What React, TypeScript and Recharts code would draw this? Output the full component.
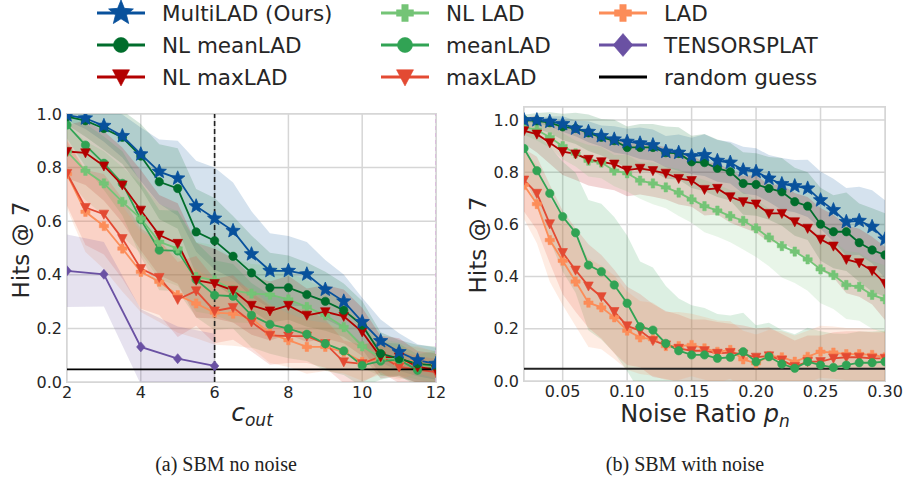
import React from "react";
import {
  ComposedChart,
  Line,
  Area,
  XAxis,
  YAxis,
  CartesianGrid,
  ReferenceLine,
} from "recharts";

// x 軸
const leftX = [2, 2.5, 3, 3.5, 4, 4.5, 5, 5.5, 6, 6.5, 7, 7.5, 8, 8.5, 9, 9.5, 10, 10.5, 11, 11.5, 12];
const rightX = [
  0.02, 0.03, 0.04, 0.05, 0.06, 0.07, 0.08, 0.09, 0.1, 0.11, 0.12, 0.13, 0.14, 0.15, 0.16,
  0.17, 0.18, 0.19, 0.2, 0.21, 0.22, 0.23, 0.24, 0.25, 0.26, 0.27, 0.28, 0.29, 0.3,
];
const leftTicksX = [2, 4, 6, 8, 10, 12];
const rightTicksX = [0.05, 0.1, 0.15, 0.2, 0.25, 0.3];
const yTicks = [0, 0.2, 0.4, 0.6, 0.8, 1.0];
const randomGuess = 0.047;
const cutLine = 6;

// (a) SBM no noise : mean
const multiL = [0.996, 0.984, 0.956, 0.918, 0.85, 0.785, 0.76, 0.656, 0.61, 0.564, 0.477, 0.415, 0.415, 0.402, 0.345, 0.301, 0.224, 0.153, 0.112, 0.081, 0.068];
const nlMeanL = [0.99, 0.975, 0.946, 0.913, 0.843, 0.747, 0.722, 0.56, 0.527, 0.469, 0.407, 0.352, 0.352, 0.326, 0.301, 0.268, 0.212, 0.106, 0.087, 0.068, 0.062];
const nlMaxL = [0.86, 0.855, 0.806, 0.735, 0.641, 0.548, 0.517, 0.38, 0.367, 0.342, 0.286, 0.265, 0.286, 0.249, 0.262, 0.245, 0.187, 0.093, 0.093, 0.056, 0.046];
const nlLadL = [0.86, 0.788, 0.741, 0.672, 0.61, 0.523, 0.498, 0.392, 0.38, 0.342, 0.33, 0.326, 0.308, 0.28, 0.249, 0.205, 0.133, 0.091, 0.087, 0.068, 0.056];
const meanL = [0.959, 0.884, 0.816, 0.741, 0.606, 0.492, 0.489, 0.382, 0.324, 0.32, 0.249, 0.215, 0.199, 0.178, 0.143, 0.116, 0.062, 0.078, 0.083, 0.044, 0.056];
const maxL = [0.778, 0.651, 0.626, 0.535, 0.423, 0.39, 0.308, 0.34, 0.265, 0.278, 0.224, 0.174, 0.171, 0.171, 0.143, 0.075, 0.068, 0.096, 0.056, 0.046, 0.037];
const ladL = [0.776, 0.635, 0.582, 0.498, 0.411, 0.374, 0.324, 0.293, 0.259, 0.255, 0.237, 0.181, 0.156, 0.131, 0.131, 0.112, 0.075, 0.087, 0.068, 0.083, 0.062];
const tensorL = [0.415, null, 0.402, null, 0.131, null, 0.087, null, 0.06, null, null, null, null, null, null, null, null, null, null, null, null];

// (a) std
const multiLStd = [0.02, 0.04, 0.06, 0.08, 0.1, 0.12, 0.14, 0.17, 0.19, 0.18, 0.16, 0.14, 0.13, 0.12, 0.11, 0.1, 0.09, 0.08, 0.07, 0.06, 0.06];
const nlMeanLStd = [0.03, 0.06, 0.08, 0.1, 0.12, 0.14, 0.15, 0.16, 0.16, 0.15, 0.14, 0.13, 0.12, 0.12, 0.11, 0.1, 0.09, 0.08, 0.07, 0.07, 0.07];
const nlMaxLStd = [0.1, 0.12, 0.13, 0.14, 0.15, 0.15, 0.15, 0.14, 0.13, 0.12, 0.11, 0.11, 0.11, 0.1, 0.1, 0.1, 0.09, 0.08, 0.07, 0.06, 0.06];
const nlLadLStd = [0.1, 0.11, 0.12, 0.13, 0.13, 0.14, 0.14, 0.13, 0.13, 0.12, 0.11, 0.11, 0.1, 0.1, 0.1, 0.09, 0.08, 0.07, 0.06, 0.06, 0.06];
const meanLStd = [0.05, 0.08, 0.1, 0.12, 0.14, 0.15, 0.15, 0.14, 0.13, 0.12, 0.12, 0.11, 0.11, 0.1, 0.1, 0.09, 0.08, 0.07, 0.06, 0.06, 0.06];
const maxLStd = [0.12, 0.14, 0.15, 0.15, 0.15, 0.14, 0.14, 0.13, 0.12, 0.12, 0.11, 0.11, 0.1, 0.1, 0.09, 0.08, 0.07, 0.06, 0.06, 0.05, 0.05];
const ladLStd = [0.13, 0.15, 0.16, 0.16, 0.15, 0.15, 0.14, 0.13, 0.12, 0.12, 0.11, 0.11, 0.1, 0.1, 0.09, 0.08, 0.07, 0.06, 0.06, 0.05, 0.05];
const tensorLStd = [0.135, null, 0.12, null, 0.14, null, 0.12, null, 0.12, null, null, null, null, null, null, null, null, null, null, null, null];

// (b) SBM with noise : mean
const multiR = [1.0, 1.0, 0.994, 0.985, 0.968, 0.955, 0.939, 0.926, 0.917, 0.911, 0.904, 0.879, 0.875, 0.862, 0.866, 0.844, 0.837, 0.808, 0.802, 0.776, 0.755, 0.747, 0.738, 0.693, 0.655, 0.61, 0.614, 0.591, 0.543];
const nlMeanR = [1.0, 0.997, 0.99, 0.974, 0.968, 0.951, 0.934, 0.921, 0.895, 0.895, 0.895, 0.875, 0.872, 0.84, 0.837, 0.815, 0.802, 0.757, 0.753, 0.738, 0.725, 0.687, 0.67, 0.601, 0.572, 0.572, 0.53, 0.502, 0.483];
const nlMaxR = [0.959, 0.946, 0.913, 0.879, 0.87, 0.849, 0.84, 0.831, 0.808, 0.815, 0.806, 0.796, 0.776, 0.768, 0.734, 0.738, 0.706, 0.687, 0.678, 0.642, 0.642, 0.61, 0.585, 0.543, 0.517, 0.466, 0.453, 0.423, 0.374];
const nlLadR = [0.974, 0.962, 0.934, 0.9, 0.872, 0.844, 0.837, 0.806, 0.796, 0.768, 0.757, 0.742, 0.722, 0.696, 0.67, 0.653, 0.632, 0.614, 0.585, 0.55, 0.517, 0.496, 0.466, 0.428, 0.406, 0.368, 0.361, 0.33, 0.313];
const meanR = [0.891, 0.806, 0.719, 0.63, 0.568, 0.444, 0.419, 0.368, 0.298, 0.208, 0.195, 0.144, 0.116, 0.1, 0.1, 0.087, 0.091, 0.112, 0.074, 0.093, 0.065, 0.049, 0.074, 0.061, 0.052, 0.061, 0.07, 0.07, 0.074];
const maxR = [0.77, 0.719, 0.602, 0.492, 0.425, 0.364, 0.323, 0.266, 0.211, 0.193, 0.155, 0.138, 0.125, 0.116, 0.116, 0.106, 0.109, 0.103, 0.091, 0.096, 0.08, 0.055, 0.074, 0.074, 0.087, 0.091, 0.091, 0.087, 0.087];
const ladR = [0.751, 0.678, 0.54, 0.461, 0.381, 0.3, 0.282, 0.244, 0.193, 0.167, 0.16, 0.134, 0.134, 0.138, 0.125, 0.112, 0.119, 0.083, 0.068, 0.096, 0.091, 0.074, 0.093, 0.112, 0.109, 0.103, 0.103, 0.1, 0.091];

// (b) std
const multiRStd = [0.01, 0.01, 0.02, 0.03, 0.03, 0.04, 0.04, 0.05, 0.05, 0.06, 0.06, 0.06, 0.07, 0.07, 0.08, 0.08, 0.08, 0.09, 0.09, 0.09, 0.1, 0.1, 0.11, 0.11, 0.12, 0.13, 0.13, 0.14, 0.15];
const nlMeanRStd = [0.02, 0.03, 0.04, 0.05, 0.06, 0.07, 0.07, 0.08, 0.08, 0.09, 0.09, 0.1, 0.1, 0.1, 0.11, 0.11, 0.11, 0.12, 0.12, 0.12, 0.13, 0.13, 0.13, 0.14, 0.14, 0.15, 0.15, 0.16, 0.16];
const nlMaxRStd = [0.05, 0.07, 0.08, 0.09, 0.1, 0.1, 0.1, 0.1, 0.1, 0.1, 0.1, 0.1, 0.1, 0.1, 0.1, 0.1, 0.1, 0.1, 0.11, 0.11, 0.11, 0.11, 0.12, 0.12, 0.12, 0.13, 0.13, 0.13, 0.14];
const nlLadRStd = [0.03, 0.04, 0.04, 0.05, 0.05, 0.06, 0.06, 0.06, 0.07, 0.07, 0.08, 0.08, 0.09, 0.09, 0.1, 0.1, 0.1, 0.11, 0.11, 0.11, 0.12, 0.12, 0.12, 0.13, 0.13, 0.13, 0.13, 0.13, 0.13];
const meanRStd = [0.1, 0.14, 0.18, 0.21, 0.23, 0.25, 0.26, 0.26, 0.26, 0.25, 0.24, 0.22, 0.2, 0.19, 0.18, 0.17, 0.16, 0.15, 0.14, 0.13, 0.13, 0.13, 0.13, 0.13, 0.13, 0.12, 0.12, 0.12, 0.12];
const maxRStd = [0.12, 0.14, 0.15, 0.16, 0.16, 0.16, 0.16, 0.16, 0.15, 0.14, 0.14, 0.13, 0.13, 0.12, 0.12, 0.12, 0.11, 0.11, 0.11, 0.11, 0.1, 0.1, 0.1, 0.1, 0.1, 0.1, 0.1, 0.1, 0.1];
const ladRStd = [0.13, 0.15, 0.16, 0.17, 0.17, 0.17, 0.16, 0.16, 0.15, 0.14, 0.14, 0.13, 0.13, 0.12, 0.12, 0.12, 0.11, 0.11, 0.11, 0.1, 0.1, 0.1, 0.1, 0.1, 0.1, 0.1, 0.1, 0.1, 0.1];

type Marker = "star" | "circle" | "tri" | "plus" | "diamond" | "none";

type SeriesMeta = { key: string; name: string; color: string; marker: Marker; size: number };

const MULTI: SeriesMeta = { key: "multi", name: "MultiLAD (Ours)", color: "#08519c", marker: "star", size: 7.5 };
const NLMEAN: SeriesMeta = { key: "nlMean", name: "NL meanLAD", color: "#006d2c", marker: "circle", size: 4.2 };
const NLMAX: SeriesMeta = { key: "nlMax", name: "NL maxLAD", color: "#b30000", marker: "tri", size: 4.8 };
const NLLAD: SeriesMeta = { key: "nlLad", name: "NL LAD", color: "#74c476", marker: "plus", size: 4.6 };
const MEAN: SeriesMeta = { key: "mean", name: "meanLAD", color: "#31a354", marker: "circle", size: 4.2 };
const MAX: SeriesMeta = { key: "max", name: "maxLAD", color: "#e34a33", marker: "tri", size: 4.8 };
const LAD: SeriesMeta = { key: "lad", name: "LAD", color: "#fc8d59", marker: "plus", size: 4.6 };
const TENSOR: SeriesMeta = { key: "tensor", name: "TENSORSPLAT", color: "#6a51a3", marker: "diamond", size: 5 };
const RANDOM: SeriesMeta = { key: "random", name: "random guess", color: "#000000", marker: "none", size: 0 };

const FONT = "'DejaVu Sans', sans-serif";
const TEXT = "#262626";
const GRID = "#d6d6d6";

function markerShape(kind: Marker, cx: number, cy: number, s: number, color: string) {
  switch (kind) {
    case "star": {
      const pts: string[] = [];
      for (let k = 0; k < 10; k++) {
        const r = k % 2 === 0 ? s : s * 0.44;
        const a = -Math.PI / 2 + (k * Math.PI) / 5;
        pts.push(`${cx + r * Math.cos(a)},${cy + r * Math.sin(a)}`);
      }
      return <polygon points={pts.join(" ")} fill={color} stroke={color} strokeWidth={0.8} strokeLinejoin="round" />;
    }
    case "circle":
      return <circle cx={cx} cy={cy} r={s} fill={color} stroke={color} strokeWidth={0.6} />;
    case "tri":
      return (
        <polygon
          points={`${cx - s},${cy - s * 0.85} ${cx + s},${cy - s * 0.85} ${cx},${cy + s * 1.05}`}
          fill={color}
          stroke={color}
          strokeWidth={0.6}
        />
      );
    case "plus": {
      const t = s * 0.38;
      const p = [
        [cx - t, cy - s], [cx + t, cy - s], [cx + t, cy - t], [cx + s, cy - t],
        [cx + s, cy + t], [cx + t, cy + t], [cx + t, cy + s], [cx - t, cy + s],
        [cx - t, cy + t], [cx - s, cy + t], [cx - s, cy - t], [cx - t, cy - t],
      ];
      return <polygon points={p.map((q) => q.join(",")).join(" ")} fill={color} stroke={color} strokeWidth={0.5} />;
    }
    case "diamond": {
      const w = s * 0.85;
      return (
        <polygon
          points={`${cx},${cy - s} ${cx + w},${cy} ${cx},${cy + s} ${cx - w},${cy}`}
          fill={color}
          stroke={color}
          strokeWidth={0.6}
        />
      );
    }
    default:
      return null;
  }
}

const dotFor = (m: SeriesMeta) => (props: any) => {
  const { cx, cy, index, value } = props;
  if (cx == null || cy == null || value == null) return <g key={`e-${m.key}-${index}`} />;
  return <g key={`d-${m.key}-${index}`}>{markerShape(m.marker, cx, cy, m.size, m.color)}</g>;
};

type SeriesData = { meta: SeriesMeta; mean: (number | null)[]; std: (number | null)[] };

function buildRows(xs: number[], series: SeriesData[]) {
  return xs.map((x, i) => {
    const row: any = { x };
    series.forEach(({ meta, mean, std }) => {
      const m = mean[i];
      const s = std[i];
      if (m != null && s != null) {
        row[meta.key] = m;
        row[meta.key + "Band"] = [m - s, m + s];
      }
    });
    return row;
  });
}

const leftSeries: SeriesData[] = [
  { meta: MULTI, mean: multiL, std: multiLStd },
  { meta: NLMEAN, mean: nlMeanL, std: nlMeanLStd },
  { meta: NLMAX, mean: nlMaxL, std: nlMaxLStd },
  { meta: NLLAD, mean: nlLadL, std: nlLadLStd },
  { meta: MEAN, mean: meanL, std: meanLStd },
  { meta: MAX, mean: maxL, std: maxLStd },
  { meta: LAD, mean: ladL, std: ladLStd },
  { meta: TENSOR, mean: tensorL, std: tensorLStd },
];

const rightSeries: SeriesData[] = [
  { meta: MULTI, mean: multiR, std: multiRStd },
  { meta: NLMEAN, mean: nlMeanR, std: nlMeanRStd },
  { meta: NLMAX, mean: nlMaxR, std: nlMaxRStd },
  { meta: NLLAD, mean: nlLadR, std: nlLadRStd },
  { meta: MEAN, mean: meanR, std: meanRStd },
  { meta: MAX, mean: maxR, std: maxRStd },
  { meta: LAD, mean: ladR, std: ladRStd },
];

const leftRows = buildRows(leftX, leftSeries);
const rightRows = buildRows(rightX, rightSeries);

const tickStyle = { fontSize: 16, fill: TEXT, fontFamily: FONT };

function renderSeries(series: SeriesData[]) {
  const bands = series.map(({ meta }) => (
    <Area
      key={meta.key + "Band"}
      type="linear"
      dataKey={meta.key + "Band"}
      stroke="none"
      fill={meta.color}
      fillOpacity={0.17}
      dot={false}
      activeDot={false}
      connectNulls
      isAnimationActive={false}
    />
  ));
  // 上に MultiLAD が来るように逆順で線を描く
  const lines = [...series].reverse().map(({ meta }) => (
    <Line
      key={meta.key}
      type="linear"
      dataKey={meta.key}
      stroke={meta.color}
      strokeWidth={1.8}
      dot={dotFor(meta)}
      activeDot={false}
      connectNulls
      isAnimationActive={false}
    />
  ));
  return [...bands, ...lines];
}

function LegendItem({ meta, x, y }: { meta: SeriesMeta; x: number; y: number }) {
  const big: Record<Marker, number> = { star: 13, circle: 7.5, tri: 8.5, plus: 8.5, diamond: 11.5, none: 0 };
  return (
    <div style={{ position: "absolute", left: x, top: y - 15, height: 30, display: "flex", alignItems: "center" }}>
      <svg width={50} height={30} style={{ overflow: "visible" }}>
        <line x1={0} x2={48} y1={15} y2={15} stroke={meta.color} strokeWidth={3} />
        {markerShape(meta.marker, 24, 15, big[meta.marker], meta.color)}
      </svg>
      <span style={{ marginLeft: 15, fontSize: 21.5, fontFamily: FONT, color: TEXT, whiteSpace: "nowrap" }}>
        {meta.name}
      </span>
    </div>
  );
}

const legendCols: SeriesMeta[][] = [
  [MULTI, NLMEAN, NLMAX],
  [NLLAD, MEAN, MAX],
  [LAD, TENSOR, RANDOM],
];
const legendColX = [97, 381, 599];
const legendRowY = [13, 45, 77];

function YLabel({ cx, cy }: { cx: number; cy: number }) {
  return (
    <div
      style={{
        position: "absolute",
        left: cx - 100,
        top: cy - 15,
        width: 200,
        height: 30,
        lineHeight: "30px",
        textAlign: "center",
        transform: "rotate(-90deg)",
        fontSize: 23,
        fontFamily: FONT,
        color: TEXT,
      }}
    >
      Hits @ 7
    </div>
  );
}

function PlotFrame({ left, top, width, height }: { left: number; top: number; width: number; height: number }) {
  return (
    <div
      style={{
        position: "absolute",
        left: left - 1,
        top: top - 1,
        width,
        height,
        border: `1.5px solid ${GRID}`,
        pointerEvents: "none",
      }}
    />
  );
}

export default function App() {
  return (
    <div style={{ position: "absolute", left: 0, top: 0, width: 907, height: 485, background: "#fff", overflow: "hidden" }}>
      {legendCols.map((col, ci) =>
        col.map((meta, ri) => <LegendItem key={meta.key} meta={meta} x={legendColX[ci]} y={legendRowY[ri]} />)
      )}

      {/* (a) SBM no noise */}
      <div style={{ position: "absolute", left: 0, top: 100 }}>
        <ComposedChart width={450} height={330} data={leftRows} margin={{ top: 14, right: 14, bottom: 0, left: 0 }}>
          <CartesianGrid stroke={GRID} strokeWidth={1.5} />
          <XAxis
            type="number"
            dataKey="x"
            domain={[2, 12]}
            ticks={leftTicksX}
            interval={0}
            allowDataOverflow
            height={48}
            axisLine={false}
            tickLine={false}
            tickSize={0}
            tickMargin={5}
            tick={tickStyle}
          />
          <YAxis
            type="number"
            domain={[0, 1]}
            ticks={yTicks}
            interval={0}
            allowDataOverflow
            width={67}
            axisLine={false}
            tickLine={false}
            tickSize={0}
            tickMargin={5}
            tick={tickStyle}
            tickFormatter={(v: number) => v.toFixed(1)}
          />
          {renderSeries(leftSeries)}
          <ReferenceLine x={12} stroke="#d9b3dc" strokeDasharray="4 3" strokeWidth={1.5} />
          <ReferenceLine x={cutLine} stroke="#222" strokeDasharray="5 3" strokeWidth={1.6} />
          <ReferenceLine y={randomGuess} stroke="#000" strokeWidth={1.6} />
        </ComposedChart>
      </div>
      <PlotFrame left={67} top={114} width={369} height={268} />
      <YLabel cx={21} cy={250} />
      <div
        style={{
          position: "absolute",
          left: 152,
          width: 200,
          top: 399,
          textAlign: "center",
          fontFamily: FONT,
          fontSize: 25,
          lineHeight: "28px",
          color: TEXT,
          fontStyle: "italic",
        }}
      >
        c<sub style={{ fontSize: 17, verticalAlign: "-5px", lineHeight: "0" }}>out</sub>
      </div>
      <div
        style={{
          position: "absolute",
          left: 76,
          width: 300,
          top: 453,
          textAlign: "center",
          fontFamily: "'Liberation Serif', serif",
          fontSize: 20,
          color: "#222",
        }}
      >
        (a) SBM no noise
      </div>

      {/* (b) SBM with noise */}
      <div style={{ position: "absolute", left: 450, top: 100 }}>
        <ComposedChart width={457} height={329} data={rightRows} margin={{ top: 7, right: 22, bottom: 0, left: 0 }}>
          <CartesianGrid stroke={GRID} strokeWidth={1.5} />
          <XAxis
            type="number"
            dataKey="x"
            domain={[0.02, 0.3]}
            ticks={rightTicksX}
            interval={0}
            allowDataOverflow
            height={48}
            axisLine={false}
            tickLine={false}
            tickSize={0}
            tickMargin={5}
            tick={tickStyle}
            tickFormatter={(v: number) => v.toFixed(2)}
          />
          <YAxis
            type="number"
            domain={[0, 1.05]}
            ticks={yTicks}
            interval={0}
            allowDataOverflow
            width={74}
            axisLine={false}
            tickLine={false}
            tickSize={0}
            tickMargin={5}
            tick={tickStyle}
            tickFormatter={(v: number) => v.toFixed(1)}
          />
          {renderSeries(rightSeries)}
          <ReferenceLine y={randomGuess} stroke="#222" strokeWidth={2} />
        </ComposedChart>
      </div>
      <PlotFrame left={524} top={107} width={361} height={274} />
      <YLabel cx={478} cy={245} />
      <div
        style={{
          position: "absolute",
          left: 555,
          width: 300,
          top: 400,
          textAlign: "center",
          fontFamily: FONT,
          fontSize: 24,
          lineHeight: "28px",
          color: TEXT,
          whiteSpace: "nowrap",
        }}
      >
        Noise Ratio <i>p</i>
        <sub style={{ fontSize: 17, fontStyle: "italic", verticalAlign: "-5px", lineHeight: "0" }}>n</sub>
      </div>
      <div
        style={{
          position: "absolute",
          left: 535,
          width: 300,
          top: 453,
          textAlign: "center",
          fontFamily: "'Liberation Serif', serif",
          fontSize: 20,
          color: "#222",
        }}
      >
        (b) SBM with noise
      </div>
    </div>
  );
}
